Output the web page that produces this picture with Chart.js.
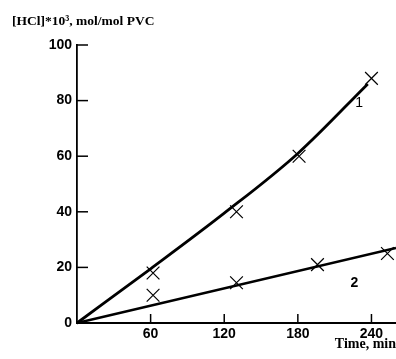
<!DOCTYPE html>
<html>
<head>
<meta charset="utf-8">
<script src="https://cdn.jsdelivr.net/npm/chart.js@4"></script>
<style>
  html, body { margin: 0; padding: 0; background: #fff; }
  #wrap { width: 396px; height: 359px; }
</style>
</head>
<body>
<div id="wrap"><canvas id="myChart"></canvas></div>
<script>
// measured points (X markers)
const time1 = [62, 130, 181, 240];
const hcl1 = [18, 40, 60, 88];
const time2 = [62, 130, 196, 253];
const hcl2 = [10, 14.5, 21, 25];

// drawn fit lines
const fitTime1 = [0, 60, 120, 180, 237];
const fitHcl1 = [0, 19.5, 39.5, 61, 86];
const fitTime2 = [0, 260];
const fitHcl2 = [0, 27];

const xTicks = [0, 60, 120, 180, 240];
const yTicks = [0, 20, 40, 60, 80, 100];
const curveLabels = ['1', '2'];
const yTitle = '[HCl]*10³, mol/mol PVC';

const pts = (xs, ys) => xs.map((x, i) => ({ x: x, y: ys[i] }));

// small ticks pointing into the plot, curve labels and the y title
const innerTicks = {
    id: 'innerTicks',
    afterDraw(chart) {
        const c = chart.ctx;
        const xs = chart.scales.x, ys = chart.scales.y;
        const area = chart.chartArea;
        c.save();
        c.strokeStyle = '#000';
        c.lineWidth = 1.5;
        yTicks.forEach(v => {
            if (v === 0) return;
            const py = ys.getPixelForValue(v);
            c.beginPath();
            c.moveTo(area.left, py);
            c.lineTo(area.left + 11, py);
            c.stroke();
        });
        xTicks.forEach(v => {
            if (v === 0) return;
            const px = xs.getPixelForValue(v);
            c.beginPath();
            c.moveTo(px, area.bottom);
            c.lineTo(px, area.bottom - 9);
            c.stroke();
        });
        c.fillStyle = '#000';
        c.textAlign = 'center';
        c.textBaseline = 'middle';
        c.font = '14px "Liberation Sans", Arial, sans-serif';
        c.fillText(curveLabels[0], xs.getPixelForValue(230), ys.getPixelForValue(79));
        c.font = 'bold 14px "Liberation Sans", Arial, sans-serif';
        c.fillText(curveLabels[1], xs.getPixelForValue(226), ys.getPixelForValue(14.4));
        c.textAlign = 'left';
        c.font = 'bold 13.5px "Liberation Serif", "Times New Roman", serif';
        c.fillText(yTitle, 12, 22);
        c.restore();
    }
};

const tickFont = { family: '"Liberation Sans", Arial, sans-serif', size: 14, weight: 'bold' };

new Chart(document.getElementById('myChart'), {
    type: 'scatter',
    data: {
        datasets: [
            {
                data: pts(fitTime1, fitHcl1),
                showLine: true,
                borderColor: '#000',
                borderWidth: 2.8,
                pointRadius: 0,
                cubicInterpolationMode: 'monotone',
                clip: false,
            },
            {
                data: pts(fitTime2, fitHcl2),
                showLine: true,
                borderColor: '#000',
                borderWidth: 2.5,
                pointRadius: 0,
                clip: false,
            },
            {
                data: pts(time1, hcl1),
                pointStyle: 'crossRot',
                pointRadius: 9,
                borderColor: '#000',
                borderWidth: 1.2,
                clip: false,
            },
            {
                data: pts(time2, hcl2),
                pointStyle: 'crossRot',
                pointRadius: 9,
                borderColor: '#000',
                borderWidth: 1.2,
                clip: false,
            },
        ]
    },
    options: {
        responsive: true,
        maintainAspectRatio: false,
        animation: false,
        layout: { autoPadding: false, padding: { top: 45, bottom: 6, left: 0, right: 0 } },
        plugins: {
            legend: { display: false },
            tooltip: { enabled: false },
        },
        scales: {
            x: {
                type: 'linear',
                min: 0,
                max: 260,
                afterBuildTicks: s => { s.ticks = xTicks.map(v => ({ value: v })); },
                afterFit: s => { s.height = 30; },
                ticks: {
                    color: '#000',
                    font: tickFont,
                    padding: 3,
                    callback: v => v === 0 ? '' : v,
                },
                grid: { display: true, drawOnChartArea: false, drawTicks: false },
                border: { display: true, color: '#000', width: 2 },
                title: {
                    display: true,
                    text: 'Time, min',
                    align: 'end',
                    color: '#000',
                    font: { family: '"Liberation Serif", "Times New Roman", serif', size: 14, weight: 'bold' },
                    padding: 0,
                },
            },
            y: {
                min: 0,
                max: 100,
                afterBuildTicks: s => { s.ticks = yTicks.map(v => ({ value: v })); },
                afterFit: s => { s.width = 77; },
                ticks: { color: '#000', font: tickFont, padding: 5 },
                grid: { display: true, drawOnChartArea: false, drawTicks: false },
                border: { display: true, color: '#000', width: 1.8 },
            }
        }
    },
    plugins: [innerTicks]
});
</script>
</body>
</html>
